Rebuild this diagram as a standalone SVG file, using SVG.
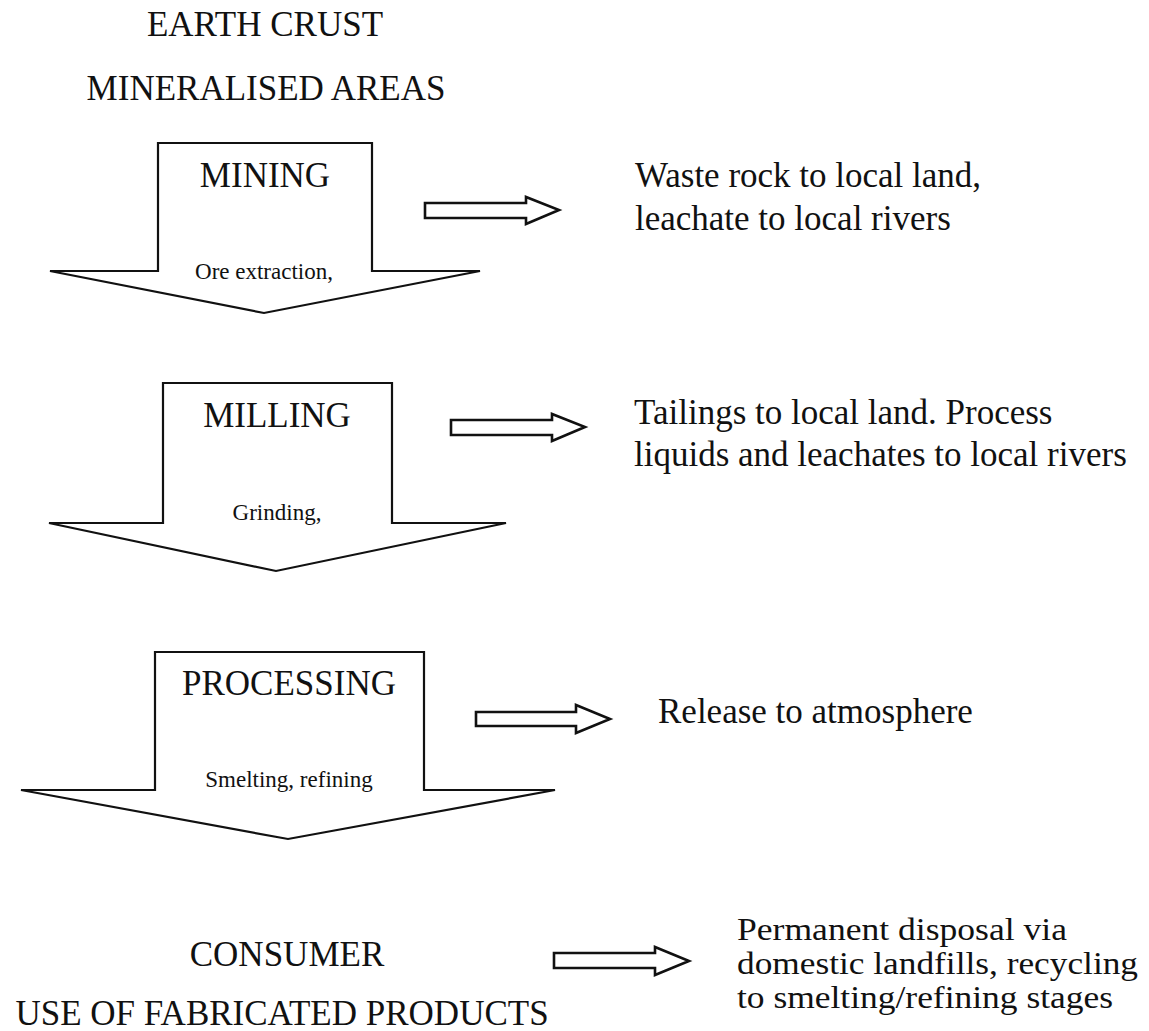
<svg xmlns="http://www.w3.org/2000/svg" width="1149" height="1031" viewBox="0 0 1149 1031">
<style>
text{font-family:"Liberation Serif","Times New Roman",serif;fill:#111}
.big{font-size:35px}
.note{font-size:30.5px}
.small{font-size:23px}
.mid{text-anchor:middle}
.flow{fill:#fff;stroke:#111;stroke-width:2.2;stroke-linejoin:miter}
.side{fill:#fff;stroke:#111;stroke-width:2.6;stroke-linejoin:miter}
</style>
<rect width="1149" height="1031" fill="#fff"/>
<g id="earth-crust">
<text class="big mid" x="265" y="36">EARTH CRUST</text>
<text class="big mid" x="266" y="100">MINERALISED AREAS</text>
</g>
<g id="mining">
<path class="flow" d="M158,143 L372,143 L372,271 L480,271 L264,313 L50,271 L158,271 Z"/>
<text class="big mid" x="265" y="187">MINING</text>
<text class="small mid" x="264" y="279">Ore extraction,</text>
</g>
<g id="milling">
<path class="flow" d="M163,383 L392,383 L392,523 L506,523 L276,571 L49,523 L163,523 Z"/>
<text class="big mid" x="277" y="427">MILLING</text>
<text class="small mid" x="277" y="520">Grinding,</text>
</g>
<g id="processing">
<path class="flow" d="M155,652 L424,652 L424,790 L555,790 L288,839 L21,790 L155,790 Z"/>
<text class="big mid" x="289" y="695">PROCESSING</text>
<text class="small mid" x="289" y="787">Smelting, refining</text>
</g>
<g id="consumer">
<text class="big mid" x="287" y="966">CONSUMER</text>
<text class="big mid" x="282" y="1025">USE OF FABRICATED PRODUCTS</text>
</g>
<g id="out-mining">
<text class="big" x="635" y="187">Waste rock to local land,</text>
<text class="big" x="635" y="230">leachate to local rivers</text>
</g>
<g id="out-milling">
<text class="big" x="634" y="424">Tailings to local land. Process</text>
<text class="big" x="634" y="466">liquids and leachates to local rivers</text>
</g>
<g id="out-processing">
<text class="big" x="658" y="723">Release to atmosphere</text>
</g>
<g id="out-consumer">
<text class="note" x="737" y="940" textLength="330" lengthAdjust="spacingAndGlyphs">Permanent disposal via</text>
<text class="note" x="737" y="974" textLength="401" lengthAdjust="spacingAndGlyphs">domestic landfills, recycling</text>
<text class="note" x="737" y="1008" textLength="376" lengthAdjust="spacingAndGlyphs">to smelting/refining stages</text>
</g>
<g id="connectors">
<path class="side" d="M425,203 L526,203 L526,197 L559,210 L526,224 L526,218 L425,218 Z"/>
<path class="side" d="M451,420 L552,420 L552,414 L585,427 L552,441 L552,435 L451,435 Z"/>
<path class="side" d="M476,712 L576,712 L576,705 L610,719 L576,733 L576,726 L476,726 Z"/>
<path class="side" d="M554,953 L655,953 L655,947 L689,961 L655,975 L655,968 L554,968 Z"/>
</g>
</svg>
